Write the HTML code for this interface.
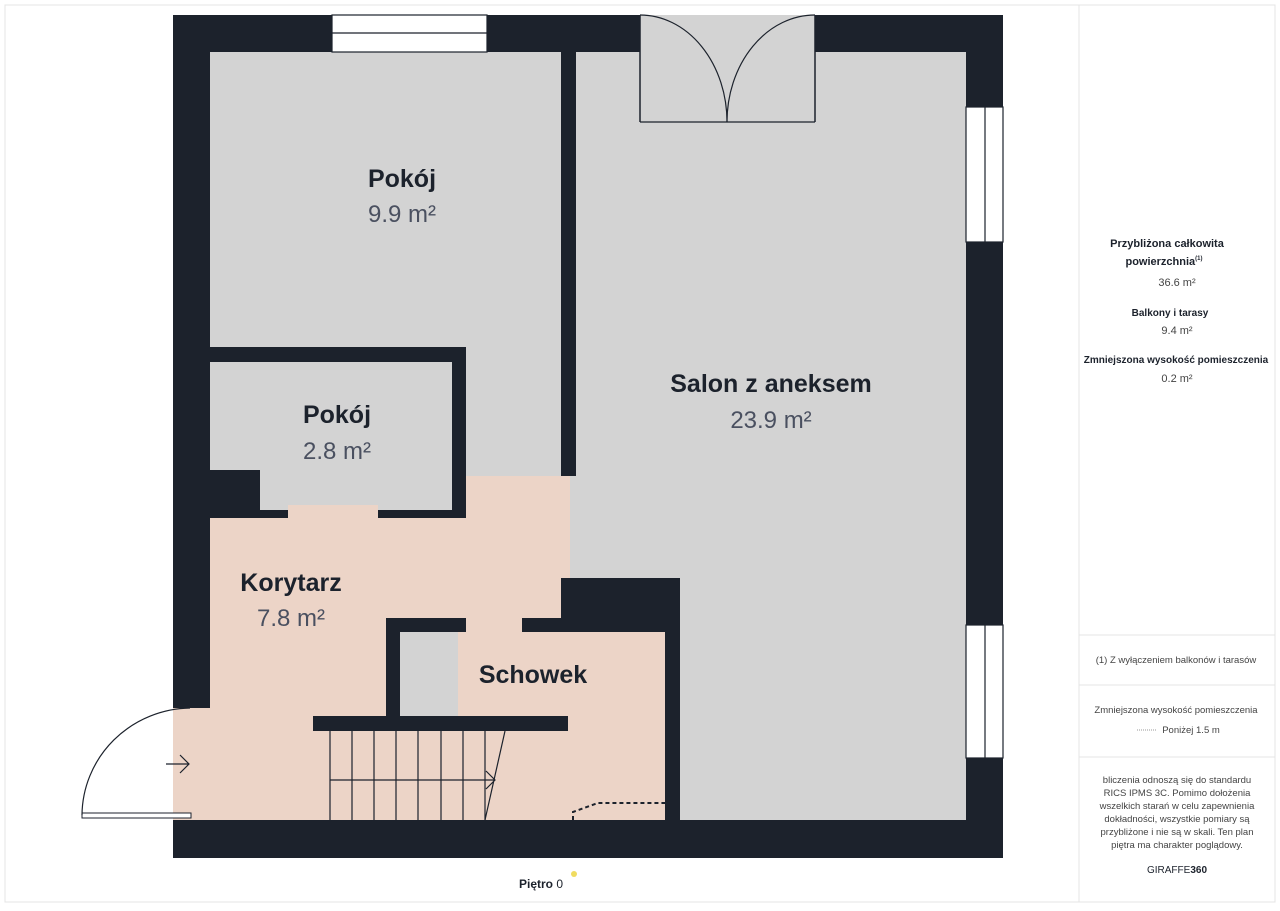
<!DOCTYPE html>
<html><head><meta charset="utf-8"><style>
body{margin:0;background:#fff;width:1280px;height:906px;overflow:hidden;font-family:"Liberation Sans",sans-serif}
</style></head><body>
<svg width="1280" height="906" viewBox="0 0 1280 906" xmlns="http://www.w3.org/2000/svg" font-family="Liberation Sans, sans-serif">
<rect x="0" y="0" width="1280" height="906" fill="#fff"/>
<rect x="5" y="5" width="1270" height="897" fill="none" stroke="#e4e4e4"/>
<line x1="1079" y1="5" x2="1079" y2="902" stroke="#e4e4e4"/>
<line x1="1079" y1="635" x2="1275" y2="635" stroke="#e4e4e4"/>
<line x1="1079" y1="685" x2="1275" y2="685" stroke="#e4e4e4"/>
<line x1="1079" y1="757" x2="1275" y2="757" stroke="#e4e4e4"/>
<!-- walls -->
<rect x="173" y="15" width="830" height="843" fill="#1c222c"/>
<!-- floors -->
<rect x="210" y="52" width="351" height="295" fill="#d3d3d3"/>
<rect x="466" y="347" width="95" height="129" fill="#d3d3d3"/>
<rect x="576" y="52" width="390" height="431" fill="#d3d3d3"/>
<rect x="570" y="476" width="396" height="102" fill="#d3d3d3"/>
<rect x="680" y="570" width="286" height="250" fill="#d3d3d3"/>
<rect x="210" y="362" width="242" height="108" fill="#d3d3d3"/>
<rect x="260" y="470" width="192" height="40" fill="#d3d3d3"/>
<!-- corridor beige -->
<rect x="466" y="476" width="104" height="102" fill="#ecd4c7"/>
<rect x="210" y="518" width="360" height="60" fill="#ecd4c7"/>
<rect x="288" y="505" width="90" height="13" fill="#ecd4c7"/>
<rect x="210" y="578" width="351" height="40" fill="#ecd4c7"/>
<rect x="210" y="618" width="176" height="202" fill="#ecd4c7"/>
<rect x="466" y="618" width="56" height="14" fill="#ecd4c7"/>
<rect x="458" y="632" width="207" height="188" fill="#ecd4c7"/>
<rect x="386" y="731" width="80" height="89" fill="#ecd4c7"/>
<rect x="173" y="708" width="37" height="112" fill="#ecd4c7"/>
<rect x="400" y="632" width="58" height="84" fill="#d3d3d3"/>
<rect x="313" y="716" width="255" height="15" fill="#1c222c"/>
<!-- top door opening -->
<rect x="640" y="15" width="175" height="37" fill="#d3d3d3"/>
<line x1="640" y1="15" x2="640" y2="122" stroke="#1c222c" stroke-width="1.5"/>
<line x1="815" y1="15" x2="815" y2="122" stroke="#1c222c" stroke-width="1.5"/>
<line x1="640" y1="122" x2="815" y2="122" stroke="#1c222c" stroke-width="1.2"/>
<path d="M727 122 A87 107 0 0 0 640 15" fill="none" stroke="#1c222c" stroke-width="1.2"/>
<path d="M727 122 A88 107 0 0 1 815 15" fill="none" stroke="#1c222c" stroke-width="1.2"/>
<!-- windows -->
<g fill="#fff" stroke="#1c222c" stroke-width="1.2">
<rect x="332" y="15" width="155" height="37"/><line x1="332" y1="33" x2="487" y2="33"/>
<rect x="966" y="107" width="37" height="135"/><line x1="985" y1="107" x2="985" y2="242"/>
<rect x="966" y="625" width="37" height="133"/><line x1="985" y1="625" x2="985" y2="758"/>
</g>
<!-- left door -->
<rect x="82" y="813" width="109" height="5" fill="#fff" stroke="#1c222c"/>
<path d="M82 815 A110 108 0 0 1 190 708" fill="none" stroke="#1c222c" stroke-width="1.2"/>
<path d="M166 764 H189 M180 755 L189 764 L180 773" fill="none" stroke="#1c222c" stroke-width="1.2"/>
<!-- stairs -->
<g stroke="#1c222c" stroke-width="1.2" fill="none">
<path d="M330 731V820M352 731V820M374 731V820M396 731V820M418 731V820M441 731V820M463 731V820M485 731V820"/>
<path d="M330 780H495M486 771L495 780L486 789M505 731L485 820"/>
<path d="M573 820V812L598 803H665" stroke-dasharray="4 3" stroke-width="2"/>
</g>
<!-- labels -->
<g text-anchor="middle" fill="#1c222c" font-weight="bold" font-size="25">
<text x="402" y="187">Pokój</text>
<text x="337" y="423">Pokój</text>
<text x="771" y="392">Salon z aneksem</text>
<text x="291" y="591">Korytarz</text>
<text x="533" y="683">Schowek</text>
</g>
<g text-anchor="middle" fill="#4a5060" font-size="24">
<text x="402" y="222">9.9 m²</text>
<text x="337" y="459">2.8 m²</text>
<text x="771" y="428">23.9 m²</text>
<text x="291" y="626">7.8 m²</text>
</g>
<text x="541" y="888" text-anchor="middle" font-size="12" fill="#1c222c" font-weight="bold">Piętro <tspan font-weight="normal">0</tspan></text>
<circle cx="574" cy="874" r="3" fill="#f0dc60"/>
<!-- panel -->
<g text-anchor="middle" fill="#1c222c" font-size="11">
<text x="1167" y="247" font-weight="bold">Przybliżona całkowita</text>
<text x="1164" y="265" font-weight="bold">powierzchnia<tspan font-size="6" dy="-5">(1)</tspan></text>
<text x="1177" y="286" fill="#444">36.6 m²</text>
<text x="1170" y="316" font-weight="bold" font-size="10">Balkony i tarasy</text>
<text x="1177" y="334" fill="#444">9.4 m²</text>
<text x="1176" y="363" font-weight="bold" font-size="10">Zmniejszona wysokość pomieszczenia</text>
<text x="1177" y="382" fill="#444">0.2 m²</text>
<g font-size="9.5" fill="#444">
<text x="1176" y="663">(1) Z wyłączeniem balkonów i tarasów</text>
<text x="1176" y="713">Zmniejszona wysokość pomieszczenia</text>
<text x="1191" y="733">Poniżej 1.5 m</text>
<text x="1177" y="783">bliczenia odnoszą się do standardu</text>
<text x="1177" y="796">RICS IPMS 3C. Pomimo dołożenia</text>
<text x="1177" y="809">wszelkich starań w celu zapewnienia</text>
<text x="1177" y="822">dokładności, wszystkie pomiary są</text>
<text x="1177" y="835">przybliżone i nie są w skali. Ten plan</text>
<text x="1177" y="848">piętra ma charakter poglądowy.</text>
</g>
<text x="1177" y="873" font-size="10"><tspan>GIRAFFE</tspan><tspan font-weight="bold">360</tspan></text>
</g>
<line x1="1137" y1="730" x2="1157" y2="730" stroke="#999" stroke-dasharray="1 1"/>
</svg>
</body></html>
